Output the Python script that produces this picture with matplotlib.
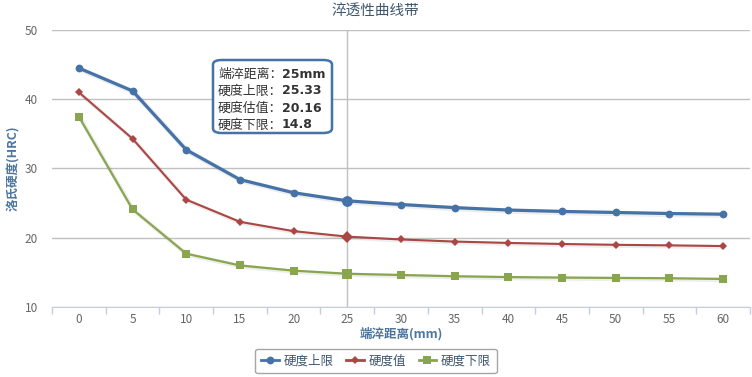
import matplotlib
matplotlib.use("Agg")
import matplotlib.pyplot as plt
from matplotlib.patches import FancyBboxPatch
from matplotlib.lines import Line2D

plt.rcParams['font.family'] = ['Noto Sans CJK SC', 'DejaVu Sans']

# =====================================================
# Data
# =====================================================

distances = [0, 5, 10, 15, 20, 25, 30, 35, 40, 45, 50, 55, 60]
upper = [44.5, 41.2, 32.7, 28.4, 26.5, 25.33, 24.8, 24.35, 24.0, 23.8, 23.65, 23.5, 23.4]
value = [41.0, 34.3, 25.5, 22.3, 20.95, 20.16, 19.75, 19.45, 19.25, 19.1, 18.98, 18.9, 18.8]
lower = [37.5, 24.1, 17.7, 16.0, 15.25, 14.8, 14.62, 14.44, 14.32, 14.25, 14.2, 14.15, 14.05]

hover_idx = 5
tip_labels = ["端淬距离：", "硬度上限：", "硬度估值：", "硬度下限："]
tip_values = ["25mm", "25.33", "20.16", "14.8"]

blue = "#4572A7"
red = "#AA4643"
green = "#89A54E"
axis_text = "#4d759e"

# =====================================================
# Plot
# =====================================================

fig = plt.figure(figsize=(7.52, 3.77), dpi=100)
W, H = 752, 377
ax = fig.add_axes([52 / W, 1 - 307 / H, 698 / W, 277 / H])

x = list(range(len(distances)))

series = [
    (upper, blue, "o", 5.6, 2.3, "硬度上限"),
    (value, red, "D", 3.6, 1.5, "硬度值"),
    (lower, green, "s", 5.4, 1.6, "硬度下限"),
]

for ys, col, mk, ms, lw, name in series:
    # soft shadow
    ax.plot([i + 0.02 for i in x], [v - 0.15 for v in ys], color="#000000",
            alpha=0.07, lw=lw + 1.5, zorder=2, solid_capstyle="round")
    ax.plot(x, ys, color=col, lw=lw, marker=mk, ms=ms, mew=0, zorder=3,
            solid_joinstyle="round")
    ax.plot([x[hover_idx]], [ys[hover_idx]], marker=mk, color=col, mew=0,
            ms=ms + 2.2, zorder=4, ls="none")

# crosshair
ax.axvline(hover_idx, color="#c0c0c0", lw=1, zorder=1)

ax.set_xlim(-0.5, len(distances) - 0.5)
ax.set_ylim(10, 50)
ax.set_yticks([10, 20, 30, 40, 50])
ax.yaxis.grid(True, color="#c0c0c0", lw=1)
ax.set_axisbelow(True)

ax.set_xticks(x)
ax.set_xticklabels([str(d) for d in distances])
ax.set_xticks([i - 0.5 for i in range(len(distances) + 1)], minor=True)
ax.tick_params(axis="x", which="major", length=0, pad=4, labelsize=8.5,
               labelcolor="#666666")
ax.tick_params(axis="x", which="minor", length=5, color="#c0d0e0", width=1)
ax.tick_params(axis="y", length=0, pad=10, labelsize=8.5, labelcolor="#666666")

for s in ["top", "right", "left"]:
    ax.spines[s].set_visible(False)
ax.spines["bottom"].set_color("#c0d0e0")

ax.set_xlabel("端淬距离(mm)", fontsize=9, fontweight="bold", color=axis_text,
              labelpad=1)
fig.text(14 / W, 1 - 168 / H, "洛氏硬度(HRC)", rotation=90, ha="center",
         va="center", fontsize=9, fontweight="bold", color=axis_text)

fig.text(375 / W, 1 - 12 / H, "淬透性曲线带", ha="center", va="center",
         fontsize=10.5, color="#3e576f")

# tooltip
tip = FancyBboxPatch((213 / W, 1 - 133 / H), 119 / W, 73 / H,
                     boxstyle="round,pad=0,rounding_size=0.012",
                     transform=fig.transFigure, facecolor="white",
                     edgecolor=blue, lw=1.8, zorder=10)
fig.patches.append(tip)
for i, (lab, val) in enumerate(zip(tip_labels, tip_values)):
    yy = 1 - (74 + 17 * i) / H
    fig.text(218 / W, yy, lab, ha="left", va="center", fontsize=9.3,
             color="#333333", zorder=11)
    fig.text(282 / W, yy, val, ha="left", va="center", fontsize=9,
             color="#333333", fontweight="bold", family="DejaVu Sans", zorder=11)

# legend
handles = [Line2D([0], [0], color=c, lw=2, marker=m, ms=s, mew=0)
           for _, c, m, s, _, _ in series]
leg = fig.legend(handles, [n for *_, n in series], loc="center",
                 bbox_to_anchor=(376 / W, 1 - 361 / H), ncol=3, fontsize=9,
                 frameon=True, handlelength=1.4, columnspacing=1.0,
                 handletextpad=0.4, borderpad=0.45, fancybox=True)
leg.get_frame().set_edgecolor("#909090")
leg.get_frame().set_linewidth(1)
for t in leg.get_texts():
    t.set_color("#3e576f")

fig.savefig("out.png", dpi=100)
